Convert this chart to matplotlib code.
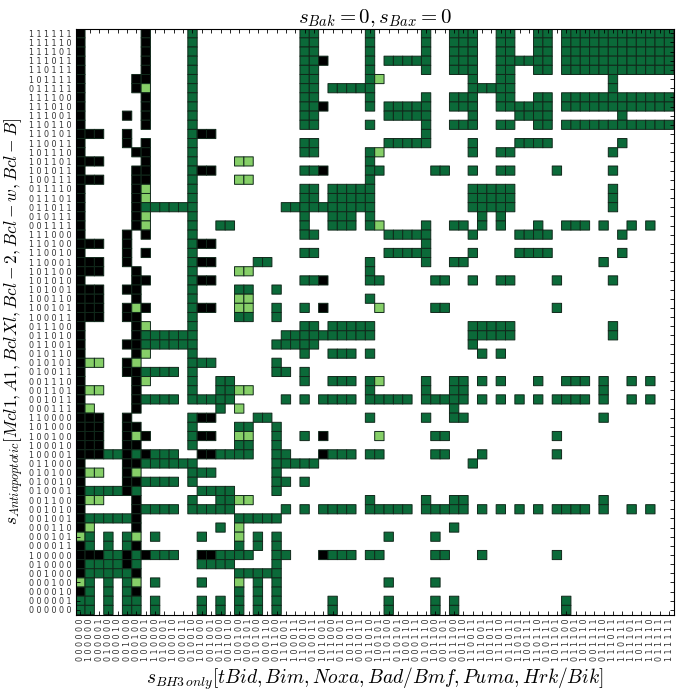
import numpy as np
import matplotlib
matplotlib.use('Agg')
import matplotlib.pyplot as plt
from matplotlib.colors import ListedColormap

plt.rcParams['mathtext.fontset'] = 'cm'

# anti-apoptotic states, listed top row first
y_states = [
    '111111', '111110', '111101', '111011', '110111', '101111', '011111', '111100',
    '111010', '111001', '110110', '110101', '110011', '101110', '101101', '101011',
    '100111', '011110', '011101', '011011', '010111', '001111', '111000', '110100',
    '110010', '110001', '101100', '101010', '101001', '100110', '100101', '100011',
    '011100', '011010', '011001', '010110', '010101', '010011', '001110', '001101',
    '001011', '000111', '110000', '101000', '100100', '100010', '100001', '011000',
    '010100', '010010', '010001', '001100', '001010', '001001', '000110', '000101',
    '000011', '100000', '010000', '001000', '000100', '000010', '000001', '000000',
]
# BH3-only states, left column first
x_states = y_states[::-1]
# character order used in the rotated x tick labels (first char drawn at the bottom)
x_char_order = [5, 3, 1, 0, 2, 4]

# cell outcome per row (top first): '.' none, 'k' black, 'g' green, 'l' light green
A = "k......k" "....g..." "........" "gg.....g" ".....g.." "ggg..gg." ".gg.gggg" "gggggggg"
B = "k......k" "....g..." "........" "ggk....g" ".ggggg.." "ggg..ggg" "ggg.gggg" "gggggggg"
C = "k.....kk" "....g..." "........" "gg.....g" "l......." "..g..gg." "........" ".g......"
D = "k.....kl" "....g..." "........" "gg.ggggg" "........" "..ggggg." "........" ".g......"
E = "k....k.k" "....g..." "........" "gg......" ".ggggg.." "..g....g" "ggg....." "..g....."
F = "kkk..k.." "....gkk." "........" "........" ".....g.." "........" "........" "........"
G14 = "kkk....k" "....g..." ".ll....." ".......g" "........" "........" "........" "........"
H = "k.....kk" "....gkk." "........" "ggk....g" "g.....gg" "..g..gg." "...g...." ".g......"
I16 = "kkk...kk" "....g..." ".ll....." ".......g" "........" "........" "........" "........"
G26 = "kkk...k." "....g..." ".ll....." ".......g" "........" "........" "........" "........"
J = "k.....kg" "ggggg..." "......gg" "gggggggg" "........" "..ggggg." "........" ".g......"
K = "k.....kl" "....g..." "........" "g..ggg.g" "........" "...g.g.." "........" "........"
L = "k.....kl" "....g..g" "g......." "g..ggg.g" "l....g.." "gg.g.g.." ".g..ggg." "g..g.g.."
M = "kkk..k.." "....gkk." "...gg..." ".......g" ".....g.." "gg......" "........" "g......."
N = "kkk..kk." "....g..." ".gg..g.." "........" "........" "........" "........" "........"
O = "kkk..klk" "....gkk." ".ll..g.." "g.k....." "l.....gg" "........" "...g...." "........"
P = "k....kkg" "ggggg..." ".....ggg" "gg......" "........" "..g....." "........" "........"
Q = "kll..kl." "....ggg." ".....g.." "........" "........" "........" "........" "........"
R = "k....kkg" "ggg.g..." ".....gg." "g......." "........" "........" "........" "........"
S = "kll...k." "....g..g" "gll....." ".......g" ".....g.." "gg......" "........" "g......."
T = "k.....kg" "ggg.gggg" "g.....g." "g.gggg.g" "gggg.ggg" "gg.g.g.g" ".g.gggg." "g..g.g.."
U = "kl....k." ".......g" ".l......" "........" "........" "g......." "........" "........"
V = "kkkggkgk" "ggg..kkg" "ggg..gg." "..kggg.g" "g.....gg" "...g...." "...g...." "........"
W = "kggggkg." ".....ggg" "g....g.." "........" "........" "........" "........" "........"
X = "kgggggk." "........" ".ggggg.." "........" "........" "........" "........" "........"
Y = "lg.g.gl." "g....g.." ".l.g.g.." "........" ".g....g." "........" "........" "........"
Z = "kg.g.gk." "........" ".g.g.g.." "........" "........" "........" "........" "........"
AA = "gg.g.gg." "g....g.g" ".g.g.g.." "...g...." ".g....g." "g......." "....g..." "........"

grid_rows = [
    A, A, A, B, A, C, D, A,
    B, E, A, F, E, C, G14, H,
    I16, D, D, J, K, L, E, F,
    E, M, G26, H, N, G26, O, N,
    D, J, P, K, Q, R, L, S,
    T, U, M, N, O, N, V, P,
    Q, R, W, S, T, X, U, Y,
    Z, V, W, X, Y, Z, AA, AA,
]

codes = {'.': 0, 'k': 1, 'g': 2, 'l': 3}
mat = np.array([[codes[c] for c in r] for r in grid_rows])
data = np.ma.masked_equal(mat, 0)

cmap = ListedColormap(['#000000', '#0b6a39', '#86cf68'])

fig = plt.figure(figsize=(6.85, 6.95), dpi=100)
ax = fig.add_axes([0.1105, 0.1158, 0.873, 0.8429])

# pcolor leaves masked (empty) cells out entirely
ax.pcolor(np.arange(65), np.arange(65), data, cmap=cmap, vmin=0.5, vmax=3.5,
          edgecolors='#10281a', linewidth=0.7)
ax.set_xlim(0, 64)
ax.set_ylim(64, 0)

ax.set_yticks(np.arange(64) + 0.5)
ax.set_yticklabels([' '.join(s) for s in y_states], fontsize=5.8, color='#333333')
ax.set_xticks(np.arange(64) + 0.5)
xlab = [' '.join(s[i] for i in x_char_order) for s in x_states]
ax.set_xticklabels(xlab, fontsize=5.8, rotation=90, color='#333333')
ax.tick_params(direction='in', length=3, width=0.6, top=True, right=True, pad=3)
for sp in ax.spines.values():
    sp.set_linewidth(0.8)

ax.set_title(r'$s_{Bak}=0, s_{Bax}=0$', fontsize=15, pad=4)
ax.set_xlabel(r'$s_{BH3\,only}[tBid, Bim, Noxa, Bad/Bmf, Puma, Hrk/Bik]$', fontsize=14, labelpad=3)
ax.set_ylabel(r'$s_{Antiapoptotic}[Mcl1, A1, BclXl, Bcl-2, Bcl-w, Bcl-B]$', fontsize=12.5, labelpad=2)

fig.savefig('out.png', dpi=100)
